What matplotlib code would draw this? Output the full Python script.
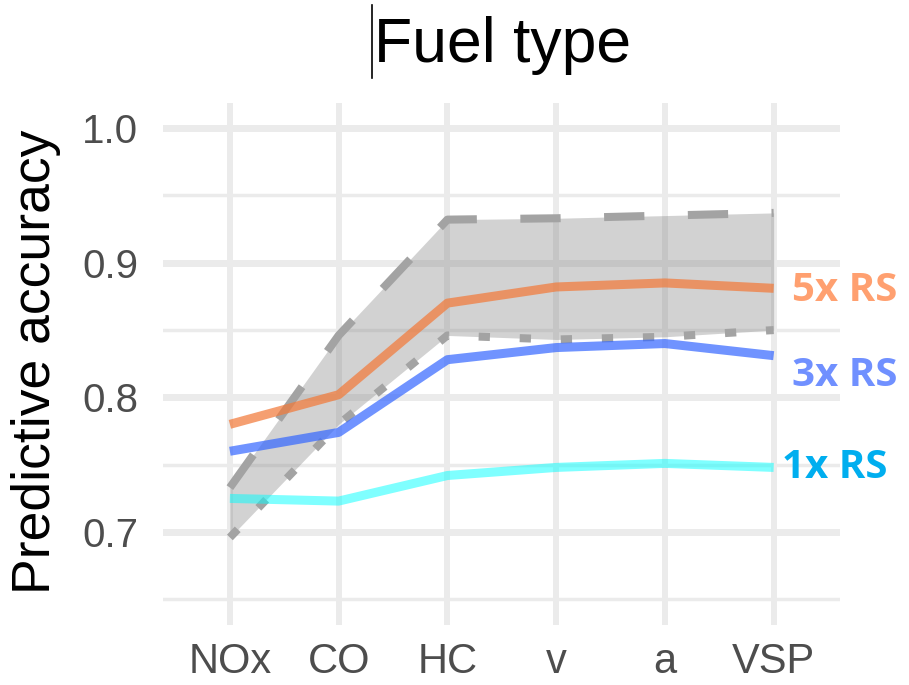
import matplotlib
matplotlib.use("Agg")
import matplotlib.pyplot as plt
from matplotlib.lines import Line2D
import numpy as np

categories = ['NOx', 'CO', 'HC', 'v', 'a', 'VSP']
rs5 = [0.780, 0.802, 0.870, 0.882, 0.885, 0.881]
rs3 = [0.760, 0.774, 0.828, 0.837, 0.840, 0.831]
rs1 = [0.725, 0.723, 0.742, 0.748, 0.751, 0.748]
upper = [0.733, 0.846, 0.932, 0.933, 0.935, 0.937]
lower = [0.696, 0.780, 0.846, 0.843, 0.845, 0.850]
series_labels = ['5x RS', '3x RS', '1x RS']
yticks = [0.7, 0.8, 0.9, 1.0]
ytick_labels = ['0.7', '0.8', '0.9', '1.0']

W, H = 909, 685
fig = plt.figure(figsize=(W / 100, H / 100), dpi=100)
ax = fig.add_axes([163 / W, (H - 625) / H, 677 / W, 522 / H])
x = np.arange(len(categories))

ax.set_xlim(-0.615, 5.61)
ax.set_ylim(0.631, 1.0186)
for s in ax.spines.values():
    s.set_visible(False)

grid_c = '#EBEBEB'
for yv in yticks:
    ax.axhline(yv, color=grid_c, lw=5.0, zorder=0)
for yv in [0.65, 0.75, 0.85, 0.95]:
    ax.axhline(yv, color=grid_c, lw=2.5, zorder=0)
for xv in x:
    ax.axvline(xv, color=grid_c, lw=4.3, zorder=0)

ax.fill_between(x, lower, upper, color='#808080', alpha=0.35, lw=0, zorder=1)
ax.plot(x, upper, color='#A3A3A3', lw=5.8, linestyle=(0, (5.0, 5.4)),
        dash_capstyle='butt', zorder=2)
ax.plot(x, lower, color='#A3A3A3', lw=5.8, linestyle=(0, (1.4, 3.7)),
        dash_capstyle='butt', zorder=2)

ax.plot(x, rs1, color='#00FFFF', alpha=0.5, lw=6.5, solid_capstyle='butt', zorder=3)
ax.plot(x, rs3, color='#3366FF', alpha=0.7, lw=6.5, solid_capstyle='butt', zorder=3)
ax.plot(x, rs5, color='#F27A3A', alpha=0.72, lw=6.5, solid_capstyle='butt', zorder=3)

lab_font = dict(family=['Open Sans', 'DejaVu Sans'], fontweight='bold', fontsize=29)
ax.text(5.17, 0.8797, series_labels[0], color='#FFA070', ha='left', va='center', **lab_font)
ax.text(5.17, 0.8166, series_labels[1], color='#7090FF', ha='left', va='center', **lab_font)
ax.text(5.08, 0.7476, series_labels[2], color='#00AEEF', ha='left', va='center', **lab_font)

ax.set_xticks(x)
ax.set_xticklabels(categories, fontsize=30, color='#4D4D4D', family='Liberation Sans')
ax.set_yticks(yticks)
ax.set_yticklabels(ytick_labels, fontsize=29, color='#4D4D4D', family='Liberation Sans')
ax.tick_params(axis='x', length=0, pad=12)
ax.tick_params(axis='y', length=0, pad=18)

fig.text(36 / W, (H - 362) / H, 'Predictive accuracy', rotation=90, ha='center', va='center',
         fontsize=38.5, family='Liberation Sans', color='black')
fig.text(503 / W, (H - 62) / H, 'Fuel type', ha='center', va='baseline',
         fontsize=45, family='Liberation Sans', color='black')
fig.add_artist(Line2D([372 / W, 372 / W], [(H - 5) / H, (H - 78) / H],
                      transform=fig.transFigure, color='black', lw=1.2))

fig.savefig('out.png', dpi=100)
